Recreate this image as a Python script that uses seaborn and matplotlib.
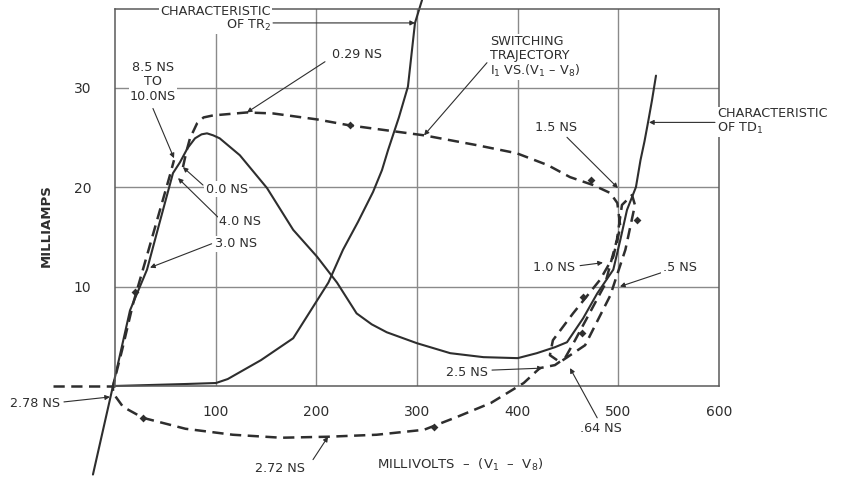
import matplotlib
matplotlib.use("Agg")
import matplotlib.pyplot as plt
import seaborn as sns
import pandas as pd

# ---------------- data (millivolts, milliamps) ----------------
td1_mv = [-21.9, -2, 14.9, 31.8, 44.5, 57.6, 64.6, 72.0, 79.5, 86.0, 91.4, 97.5, 104, 124, 151, 177,
          200.7, 220.5, 240, 255, 270, 300, 333, 366, 400, 419, 437, 449, 465, 479, 495, 502, 508.6,
          517.5, 522, 526, 529.5, 533.4, 537.4]
td1_ma = [-8.9, 0, 7.6, 11.7, 16.5, 21.4, 22.5, 23.9, 24.9, 25.3, 25.4, 25.2, 24.9, 23.2, 19.9, 15.7,
          13.0, 10.4, 7.3, 6.2, 5.4, 4.3, 3.3, 2.9, 2.8, 3.3, 3.9, 4.4, 6.8, 9.3, 11.7, 14.7, 17.7,
          20.0, 22.7, 24.6, 26.5, 28.7, 31.2]

tr2_mv = [-1, 34.8, 70, 100.3, 112, 145, 177, 212, 226.5, 241.4, 256.3, 265.2, 271.2, 282, 291, 298, 305]
tr2_ma = [0, 0.1, 0.2, 0.3, 0.7, 2.6, 4.8, 10.4, 13.7, 16.5, 19.5, 21.7, 23.7, 27.0, 30.1, 36.5, 38.8]

traj_mv = [67.5, 71.0, 74.5, 81.5, 88.0, 97.3, 131, 157, 200.7, 233, 307, 360, 399, 430, 452, 475,
           492, 499, 502, 495, 482, 455, 435, 432, 442, 467, 492, 507, 516.5, 513.6, 503.6, 498.6,
           486.7, 457, 447, 437, 422, 406, 373.5, 340, 307, 260, 211.6, 165, 117, 70, 27.8, 8, -2,
           -2, 7, 18, 32, 44.7, 54.6, 58.6]
traj_ma = [22.0, 23.6, 24.9, 26.4, 27.0, 27.2, 27.5, 27.4, 26.8, 26.2, 25.2, 24.2, 23.4, 22.2, 21.0, 20.2,
           19.4, 18.4, 16.0, 13.0, 10.7, 7.3, 4.6, 3.1, 2.4, 4.1, 9.1, 13.7, 18.2, 19.2, 18.2, 14.7,
           10.2, 4.6, 2.8, 2.1, 1.8, 0.3, -1.7, -3.1, -4.4, -4.9, -5.1, -5.2, -4.9, -4.3, -3.2, -2.1, -0.7,
           0, 3.6, 8.3, 13.2, 17.7, 21.2, 22.7]

# direction marks along the switching trajectory
mark_mv = [233, 473, 465, 464, 518.5, 317, 27.8, 20]
mark_ma = [26.2, 20.7, 8.9, 5.3, 16.7, -4.1, -3.2, 9.5]

axis_ext_mv = [-61.6, 0]
axis_ext_ma = [0, 0]

x_ticks = [100, 200, 300, 400, 500, 600]
x_tick_labels = ["100", "200", "300", "400", "500", "600"]
y_ticks = [10, 20, 30]
y_tick_labels = ["10", "20", "30"]

# ---------------- figure ----------------
sns.set_theme(style="white")
plt.rcParams["font.family"] = ["DejaVu Sans"]
INK = "#2e2e2e"
GRID = "#8a8a8a"

fig = plt.figure(figsize=(8.48, 4.92), dpi=100)
ax = fig.add_axes([115 / 848, 1 - 386 / 492, (719 - 115) / 848, (386 - 9) / 492])
ax.set_xlim(0, 600)
ax.set_ylim(0, 37.9)

for v in [100, 200, 300, 400, 500]:
    ax.axvline(v, color=GRID, lw=1.0, zorder=0)
for v in y_ticks:
    ax.axhline(v, color=GRID, lw=1.0, zorder=0)
for s in ax.spines.values():
    s.set_color("#5a5a5a")
    s.set_linewidth(1.1)

df_td1 = pd.DataFrame({"mv": td1_mv, "ma": td1_ma})
df_tr2 = pd.DataFrame({"mv": tr2_mv, "ma": tr2_ma})
df_traj = pd.DataFrame({"mv": traj_mv, "ma": traj_ma})
df_ext = pd.DataFrame({"mv": axis_ext_mv, "ma": axis_ext_ma})
df_mark = pd.DataFrame({"mv": mark_mv, "ma": mark_ma})

sns.lineplot(data=df_td1, x="mv", y="ma", sort=False, estimator=None, color=INK, lw=1.5, ax=ax)
sns.lineplot(data=df_tr2, x="mv", y="ma", sort=False, estimator=None, color=INK, lw=1.5, ax=ax)
sns.lineplot(data=df_traj, x="mv", y="ma", sort=False, estimator=None, color=INK, lw=1.8,
             dashes=False, ax=ax)
sns.lineplot(data=df_ext, x="mv", y="ma", sort=False, estimator=None, color=INK, lw=1.8, ax=ax)
for ln in ax.lines[-4:]:
    ln.set_clip_on(False)
ax.lines[-2].set_linestyle((0, (4.5, 2.6)))
ax.lines[-1].set_linestyle((0, (4.5, 2.6)))

sc = sns.scatterplot(data=df_mark, x="mv", y="ma", marker="D", s=16, color=INK, edgecolor=INK,
                     linewidth=0, ax=ax, zorder=3)
for c in ax.collections:
    c.set_clip_on(False)

ax.set_xticks(x_ticks)
ax.set_xticklabels(x_tick_labels)
ax.set_yticks(y_ticks)
ax.set_yticklabels(y_tick_labels)
ax.tick_params(axis="x", length=0, pad=14, labelsize=10, colors=INK)
ax.tick_params(axis="y", length=0, pad=17, labelsize=10, colors=INK)
ax.set_xlabel("")
ax.set_ylabel("")

fig.text(460 / 848, 1 - 465 / 492, "MILLIVOLTS  –  (V$_1$  –  V$_8$)", ha="center", va="center",
         fontsize=9.5, color=INK)
fig.text(46 / 848, 1 - 226 / 492, "MILLIAMPS", rotation=90, ha="center", va="center",
         fontsize=9.5, color=INK, fontweight="bold")

ap = dict(arrowstyle="-|>", color=INK, lw=0.8, mutation_scale=7, shrinkA=0, shrinkB=0)
FS = 9.2
bbox = dict(boxstyle="square,pad=0.1", fc="white", ec="none")


def note(text, xytext, xy_from, xy_to, ha="center", va="center", **kw):
    ax.text(*xytext, text, ha=ha, va=va, fontsize=FS, color=INK, bbox=bbox, clip_on=False,
            zorder=5, **kw)
    ax.annotate("", xy=xy_to, xytext=xy_from, arrowprops=ap, annotation_clip=False, zorder=4)


note("CHARACTERISTIC\nOF TR$_2$", (155, 36.9), (157, 36.5), (298, 36.5), ha="right",
     multialignment="right", linespacing=1.0)
note("0.29 NS", (240, 33.3), (208.6, 32.6), (131, 27.5))
note("8.5 NS\nTO\n10.0NS", (37.7, 30.6), (37.7, 27.9), (58.6, 22.9), linespacing=1.15)
note("0.0 NS", (111, 19.8), (87.4, 20.2), (67.5, 22.0))
note("4.0 NS", (124, 16.5), (102, 17.0), (62.6, 20.9))
note("3.0 NS", (120, 14.3), (96, 14.3), (34.8, 11.9))
note("SWITCHING\nTRAJECTORY\nI$_1$ VS.(V$_1$ – V$_8$)", (372.5, 33.1), (369.5, 32.5), (307, 25.2),
     ha="left", linespacing=1.1)
note("CHARACTERISTIC\nOF TD$_1$", (598, 26.6), (596, 26.5), (530.5, 26.5), ha="left",
     linespacing=1.1)
note("1.5 NS", (438, 26.0), (449, 25.0), (499.6, 19.9))
note("1.0 NS", (436, 11.9), (462, 12.1), (484.7, 12.4))
note(".5 NS", (561, 11.9), (543, 11.4), (501.6, 10.0))
note("2.5 NS", (349.7, 1.4), (374.5, 1.6), (425, 1.8))
note(".64 NS", (483, -4.3), (479, -3.2), (452, 1.8))
note("2.72 NS", (164, -8.3), (196.7, -7.4), (211.6, -5.1))
note("2.78 NS", (-79.5, -1.8), (-50.7, -1.6), (-5, -1.1))

fig.savefig("out.png", dpi=100)
